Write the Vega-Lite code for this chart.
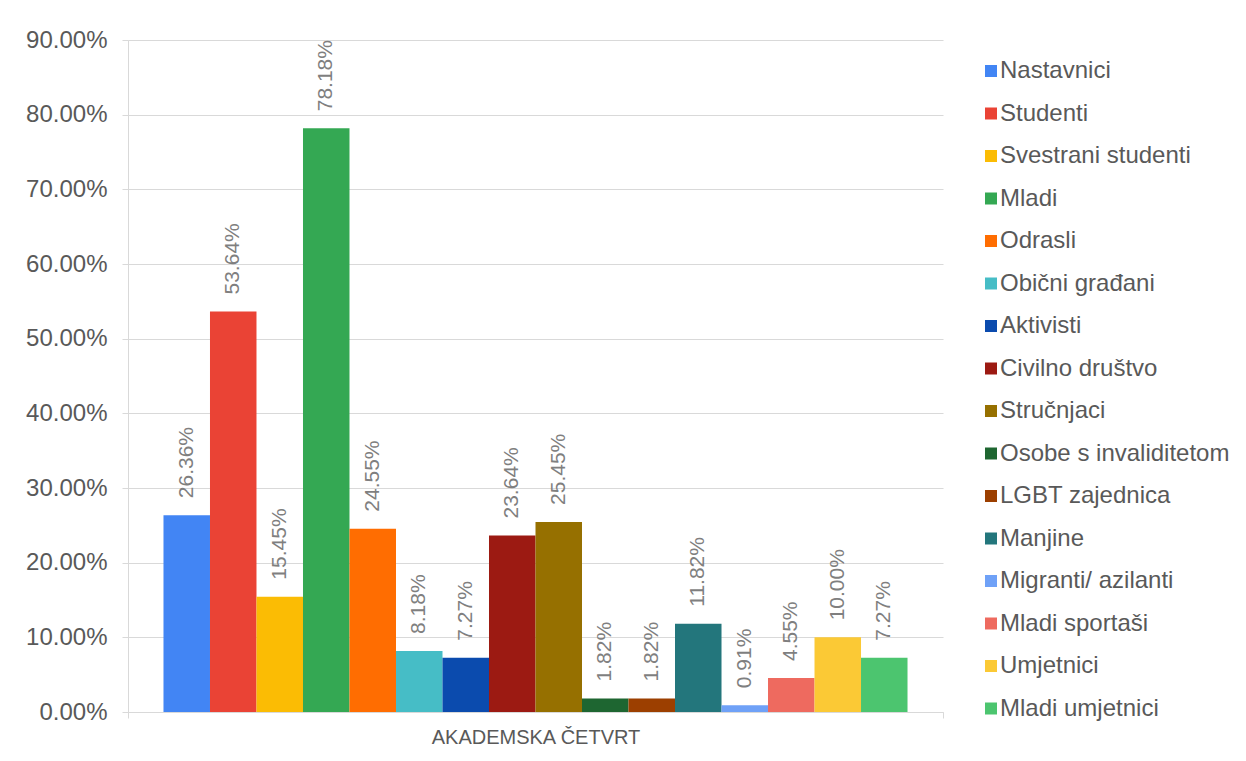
{
  "$schema": "https://vega.github.io/schema/vega-lite/v6.json",
  "width": 815,
  "height": 672,
  "autosize": "none",
  "padding": {"left": 128, "top": 40, "right": 303, "bottom": 49},
  "background": "white",
  "config": {
    "view": {"stroke": null},
    "font": "Liberation Sans"
  },
  "data": {
    "values": [
      {"group": "AKADEMSKA ČETVRT", "series": "Nastavnici", "value": 0.2636},
      {"group": "AKADEMSKA ČETVRT", "series": "Studenti", "value": 0.5364},
      {"group": "AKADEMSKA ČETVRT", "series": "Svestrani studenti", "value": 0.1545},
      {"group": "AKADEMSKA ČETVRT", "series": "Mladi", "value": 0.7818},
      {"group": "AKADEMSKA ČETVRT", "series": "Odrasli", "value": 0.2455},
      {"group": "AKADEMSKA ČETVRT", "series": "Obični građani", "value": 0.0818},
      {"group": "AKADEMSKA ČETVRT", "series": "Aktivisti", "value": 0.0727},
      {"group": "AKADEMSKA ČETVRT", "series": "Civilno društvo", "value": 0.2364},
      {"group": "AKADEMSKA ČETVRT", "series": "Stručnjaci", "value": 0.2545},
      {"group": "AKADEMSKA ČETVRT", "series": "Osobe s invaliditetom", "value": 0.0182},
      {"group": "AKADEMSKA ČETVRT", "series": "LGBT zajednica", "value": 0.0182},
      {"group": "AKADEMSKA ČETVRT", "series": "Manjine", "value": 0.1182},
      {"group": "AKADEMSKA ČETVRT", "series": "Migranti/ azilanti", "value": 0.0091},
      {"group": "AKADEMSKA ČETVRT", "series": "Mladi sportaši", "value": 0.0455},
      {"group": "AKADEMSKA ČETVRT", "series": "Umjetnici", "value": 0.1},
      {"group": "AKADEMSKA ČETVRT", "series": "Mladi umjetnici", "value": 0.0727}
    ]
  },
  "encoding": {
    "x": {
      "field": "group",
      "type": "nominal",
      "scale": {"paddingInner": 0, "paddingOuter": 0},
      "axis": {
        "title": null,
        "labelAngle": 0,
        "labelFontSize": 20,
        "labelColor": "#595959",
        "labelPadding": 9,
        "labelLimit": 600,
        "domainColor": "#D9D9D9",
        "tickColor": "#D9D9D9",
        "tickBand": "extent",
        "tickSize": 6,
        "grid": false
      }
    },
    "xOffset": {
      "field": "series",
      "type": "nominal",
      "sort": null,
      "scale": {"paddingInner": 0, "paddingOuter": 0.763}
    },
    "y": {
      "field": "value",
      "type": "quantitative",
      "scale": {"domain": [0, 0.9], "nice": false},
      "axis": {
        "title": null,
        "format": ".2%",
        "values": [0, 0.1, 0.2, 0.3, 0.4, 0.5, 0.6, 0.7, 0.8, 0.9],
        "labelFontSize": 24,
        "labelColor": "#595959",
        "labelPadding": 15,
        "domainColor": "#D9D9D9",
        "tickColor": "#D9D9D9",
        "tickSize": 6,
        "gridColor": "#D9D9D9",
        "gridWidth": 1
      }
    }
  },
  "layer": [
    {
      "mark": {"type": "bar"},
      "encoding": {
        "color": {
          "field": "series",
          "type": "nominal",
          "sort": null,
          "scale": {
            "domain": ["Nastavnici", "Studenti", "Svestrani studenti", "Mladi", "Odrasli", "Obični građani", "Aktivisti", "Civilno društvo", "Stručnjaci", "Osobe s invaliditetom", "LGBT zajednica", "Manjine", "Migranti/ azilanti", "Mladi sportaši", "Umjetnici", "Mladi umjetnici"],
            "range": ["#4285F4", "#EA4335", "#FBBC04", "#34A853", "#FF6D01", "#46BDC6", "#0B4BAE", "#9C1A12", "#967000", "#1E6631", "#9C3F00", "#23767C", "#6FA1F7", "#EE6A5F", "#FBC935", "#4CC56F"]
          },
          "legend": {
            "title": null,
            "orient": "none",
            "legendX": 851,
            "legendY": 19,
            "symbolType": "square",
            "symbolSize": 144,
            "symbolStrokeWidth": 0,
            "labelFontSize": 24,
            "labelColor": "#595959",
            "labelOffset": -3,
            "rowPadding": 18.5,
            "labelLimit": 300
          }
        }
      }
    },
    {
      "mark": {
        "type": "text",
        "angle": 270,
        "align": "left",
        "baseline": "middle",
        "dx": 17,
        "fontSize": 21,
        "color": "#7F7F7F"
      },
      "encoding": {
        "text": {"field": "value", "type": "quantitative", "format": ".2%"}
      }
    }
  ]
}
